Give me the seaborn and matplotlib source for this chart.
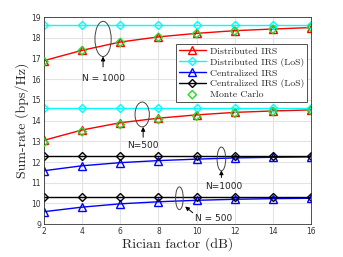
import numpy as np
import pandas as pd
import seaborn as sns
import matplotlib.pyplot as plt
from matplotlib.patches import Ellipse

# Rician factor (dB)
k_db = [2, 4, 6, 8, 10, 12, 14, 16]

# sum-rate (bps/Hz)
dist_1000 = [16.9, 17.4, 17.8, 18.05, 18.22, 18.35, 18.43, 18.5]
dist_500 = [13.05, 13.55, 13.9, 14.12, 14.28, 14.4, 14.47, 14.52]
dist_los_1000 = [18.6] * 8
dist_los_500 = [14.6] * 8
cent_1000 = [11.58, 11.82, 11.97, 12.07, 12.14, 12.2, 12.23, 12.25]
cent_500 = [9.6, 9.82, 9.98, 10.08, 10.15, 10.2, 10.23, 10.25]
cent_los_1000 = [12.3] * 8
cent_los_500 = [10.3] * 8
mc_1000 = [16.85, 17.38, 17.78, 18.03, 18.2, 18.33, 18.42, 18.5]
mc_500 = [12.95, 13.47, 13.82, 14.06, 14.22, 14.36, 14.44, 14.5]

sns.set_style("whitegrid", {"grid.color": "#e3e3e3", "axes.edgecolor": "#333333"})
plt.rcParams["font.family"] = ["DejaVu Sans"]

fig = plt.figure(figsize=(3.43, 2.57), dpi=100)
ax = fig.add_axes([0.128, 0.128, 0.779, 0.805])

serif = "cmr10"
common = dict(linewidth=1.0, markersize=5.5, markeredgewidth=1.0, fillstyle="none")

series = [
    (dist_1000, "red", "^", "Distributed IRS"),
    (dist_los_1000, "cyan", "D", "Distributed IRS (LoS)"),
    (cent_1000, "blue", "^", "Centralized IRS"),
    (cent_los_1000, "black", "D", "Centralized IRS (LoS)"),
    (dist_500, "red", "^", None),
    (dist_los_500, "cyan", "D", None),
    (cent_500, "blue", "^", None),
    (cent_los_500, "black", "D", None),
]
for vals, col, mk, lab in series:
    ms = 5.5 if mk == "^" else 4.5
    sns.lineplot(x=k_db, y=vals, ax=ax, color=col, marker=mk, label=lab,
                 linewidth=1.0, markersize=ms, markeredgewidth=1.0,
                 markerfacecolor="none", markeredgecolor=col)

for vals, lab in [(mc_1000, "Monte Carlo"), (mc_500, None)]:
    sns.scatterplot(x=k_db, y=vals, ax=ax, marker="D", s=18, facecolors="none",
                    edgecolors="#22dd22", linewidths=1.0, label=lab, zorder=5)

ax.set_xlim(2, 16)
ax.set_ylim(9, 19)
ax.set_xticks(range(2, 17, 2))
ax.set_yticks(range(9, 20))
ax.tick_params(labelsize=5.5, direction="in", length=2, pad=2, colors="#333333")
for sp in ax.spines.values():
    sp.set_linewidth(0.6)
ax.set_xlabel("Rician factor (dB)", family=serif, fontsize=10, labelpad=1)
ax.set_ylabel("Sum-rate (bps/Hz)", family=serif, fontsize=10, labelpad=2)

# annotations: ellipses, arrows, labels
notes = [
    ((5.1, 17.95), 0.85, 1.7, (5.1, 16.6), (5.1, 17.1), "N = 1000", (5.1, 16.05)),
    ((7.15, 14.3), 0.75, 1.2, (7.2, 13.2), (7.2, 13.7), "N=500", (7.2, 12.8)),
    ((11.3, 12.15), 0.45, 1.15, (11.3, 11.25), (11.3, 11.6), "N=1000", (11.4, 10.8)),
    ((9.1, 10.25), 0.4, 1.1, (9.8, 9.55), (9.4, 9.85), "N = 500", (10.9, 9.25)),
]
for c, w, h, a0, a1, txt, tp in notes:
    ax.add_patch(Ellipse(c, w, h, fill=False, edgecolor="#444444", linewidth=0.7, zorder=6))
    ax.annotate("", xy=a1, xytext=a0,
                arrowprops=dict(arrowstyle="-|>", color="black", lw=0.7,
                                mutation_scale=6, shrinkA=0, shrinkB=0))
    ax.text(tp[0], tp[1], txt, fontsize=6.5, ha="center", va="center", color="#222222")

leg = ax.legend(loc="upper right", bbox_to_anchor=(0.985, 0.87), prop={"family": serif, "size": 7},
                frameon=True, fancybox=False, framealpha=1, edgecolor="#333333",
                borderpad=0.3, labelspacing=0.2, handlelength=2.8, handletextpad=0.4, borderaxespad=0)
leg.get_frame().set_linewidth(0.6)

fig.savefig("out.png", dpi=100)
